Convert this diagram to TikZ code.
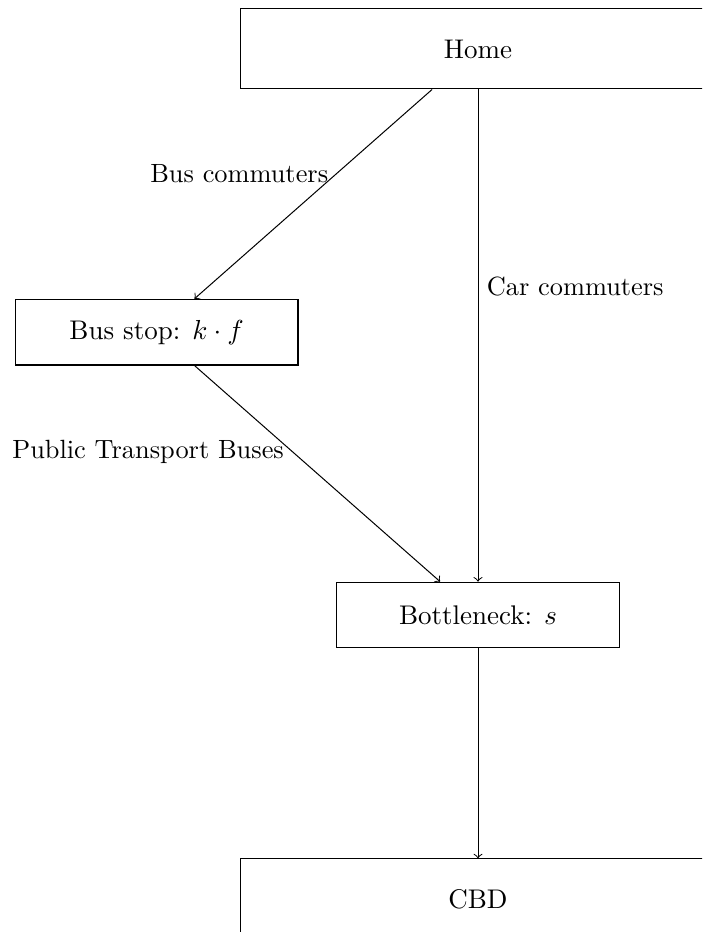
\documentclass[tikz,border=0pt]{standalone}
\usepackage{tikz}
\usetikzlibrary{positioning}

\begin{document}
\begin{tikzpicture}[
    font=\fontsize{10.5pt}{12.6pt}\selectfont,
    bigbox/.style={
      draw,
      minimum width=6.64cm,
      minimum height=1.12cm,
      align=center,
      font=\fontsize{10.75pt}{13pt}\selectfont
    },
    smallbox/.style={
      draw,
      minimum width=3.96cm,
      minimum height=0.92cm,
      align=center,
      font=\fontsize{10.75pt}{13pt}\selectfont
    },
    arrow/.style={->}
  ]
    \clip (-6.692,0.686) rectangle (3.136,-12.362);

    \node[bigbox] (home) {Home};
    \node[smallbox, below=2.93cm of home, xshift=-4.5cm]
      (busstop) {Bus stop: $k \cdot f$};
    \node[smallbox, below=6.89cm of home]
      (bottleneck) {Bottleneck: $s$};
    \node[bigbox, below=2.94cm of bottleneck]
      (cbd) {CBD};

    \draw[arrow] (home) -- node[pos=0.4, left] {Bus commuters} (busstop);
    \draw[arrow] (busstop) -- node[pos=0.4, left] {Public Transport Buses} (bottleneck);
    \draw[arrow] (home) -- node[pos=0.4, right] {Car commuters} (bottleneck);
    \draw[arrow] (bottleneck) -- (cbd);
  \end{tikzpicture}
\end{document}
